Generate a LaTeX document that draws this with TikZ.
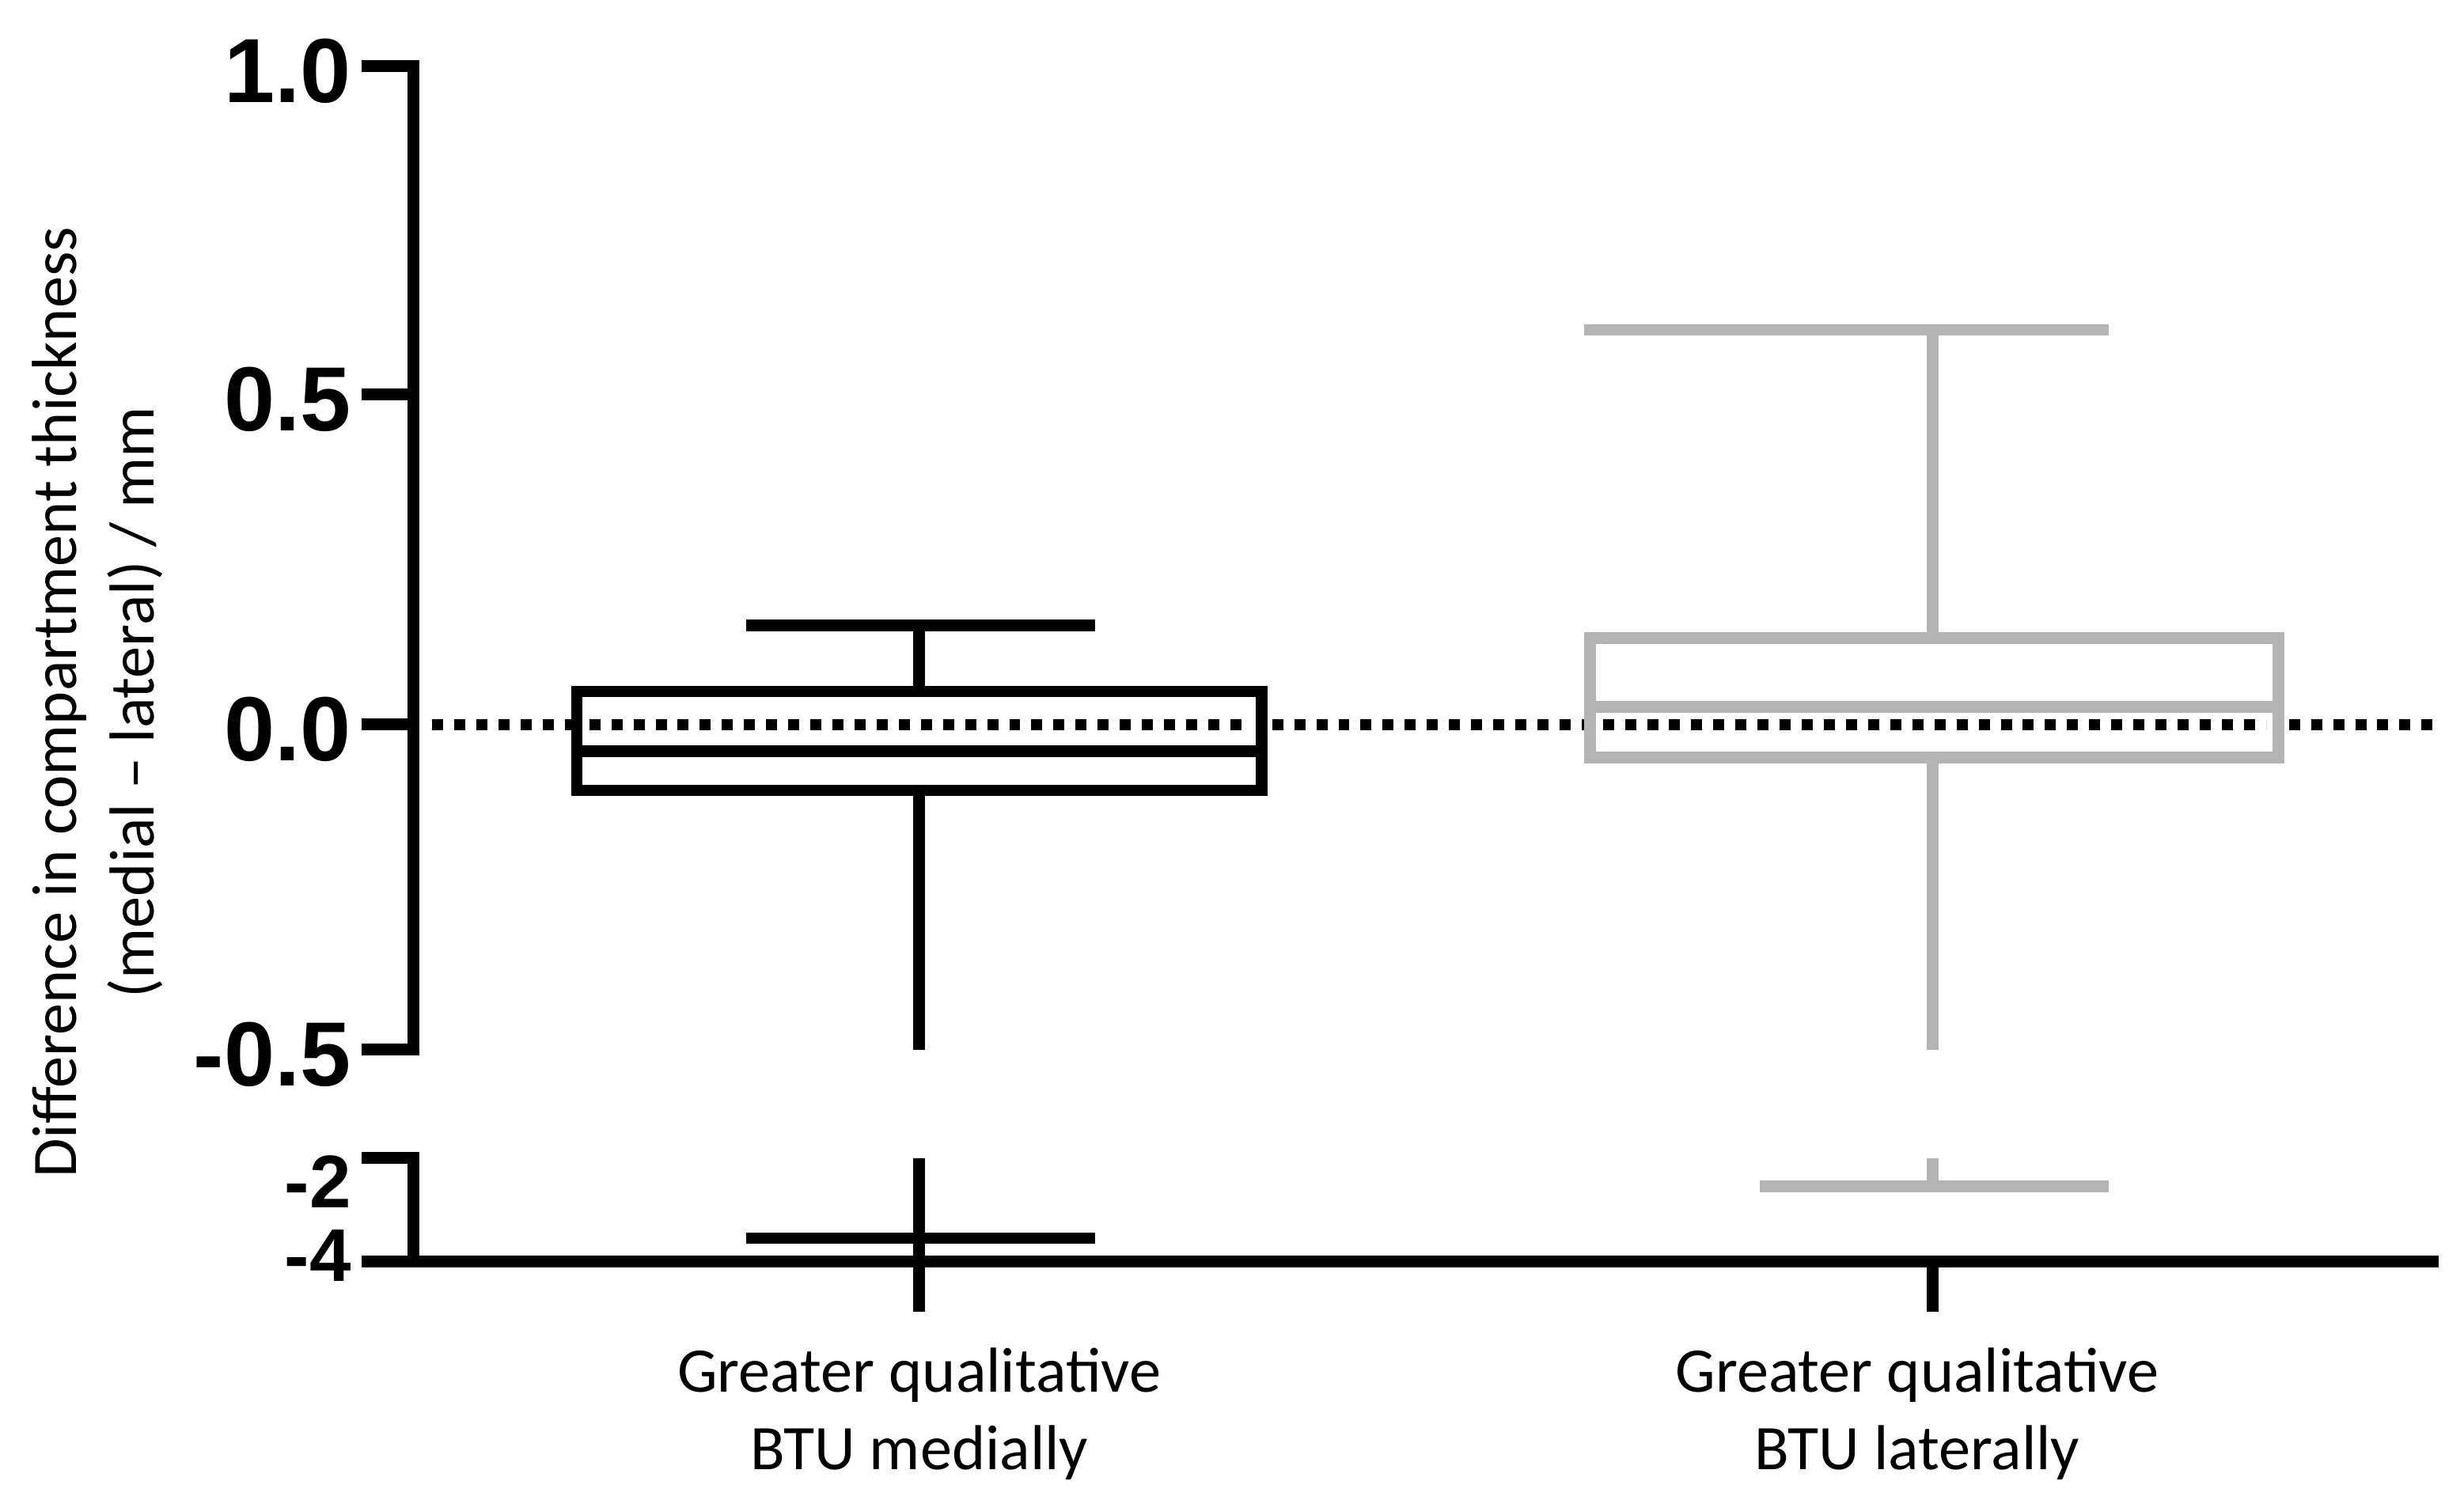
\documentclass[tikz,border=0pt]{standalone}
\usepackage{fontspec}
\setmainfont{Carlito}
\newfontfamily\axf{Liberation Sans}
\begin{document}
\begin{tikzpicture}[x=0.01cm,y=-0.01cm,
 ax/.style={line width=2.1pt},
 bk/.style={line width=2.1pt},
 gr/.style={line width=2.1pt,draw=grayc},
 tl/.style={font=\axf\bfseries\fontsize{16.5}{16}\selectfont,anchor=east,inner sep=0},
 ts/.style={font=\axf\bfseries\fontsize{13.5}{13}\selectfont,anchor=east,inner sep=0},
 xl/.style={font=\fontsize{11.5}{14}\selectfont,align=center}]
\definecolor{grayc}{RGB}{180,180,180}
\useasboundingbox (0,0) rectangle (1568,957);
% axes
\draw[ax] (230,42) -- (263,42) -- (263,668) -- (230,668);
\draw[ax] (230,251) -- (263,251);
\draw[ax] (230,461) -- (263,461);
\draw[ax] (230,737) -- (263,737) -- (263,803) -- (1552,803);
\draw[ax] (230,803) -- (263,803);
\draw[ax] (585,803) -- (585,835);
\draw[ax] (1230,803) -- (1230,835);
\node[tl] (t1) at (224,45) {1.0};
\node[tl] (t2) at (224,254) {0.5};
\node[tl] (t3) at (224,464) {0.0};
\node[tl] (t4) at (224,671) {-0.5};
\node[ts] (t5) at (224,752) {-2};
\node[ts] (t6) at (224,799) {-4};
% dotted zero line
\draw[line width=2pt,dotted] (275,461) -- (1550,461);
% black box
\draw[bk] (585,440) -- (585,398) (475,398) -- (697,398);
\draw[bk] (585,503) -- (585,668);
\draw[bk] (585,737) -- (585,803) (475,788) -- (697,788);
\draw[bk,fill=white] (367,440) rectangle (803,503);
\draw[line width=2pt,dotted] (375,461) -- (795,461);
\draw[bk] (367,478) -- (803,478);
% gray box
\draw[gr] (1230,406) -- (1230,210) (1008,210) -- (1342,210);
\draw[gr] (1230,482) -- (1230,668);
\draw[gr] (1230,737) -- (1230,755) (1120,755) -- (1342,755);
\draw[gr,fill=white] (1012,406) rectangle (1450,482);
\draw[line width=2pt,dotted] (1020,461) -- (1442,461);
\draw[gr] (1012,450) -- (1450,450);
% labels
\node[xl] (xa) at (585,900) {Greater qualitative\\BTU medially};
\node[xl] (xb) at (1220,900) {Greater qualitative\\BTU laterally};
\node[xl,rotate=90] (yl) at (62,447) {Difference in compartment thickness\\(medial -- lateral) / mm};
\end{tikzpicture}
\end{document}
